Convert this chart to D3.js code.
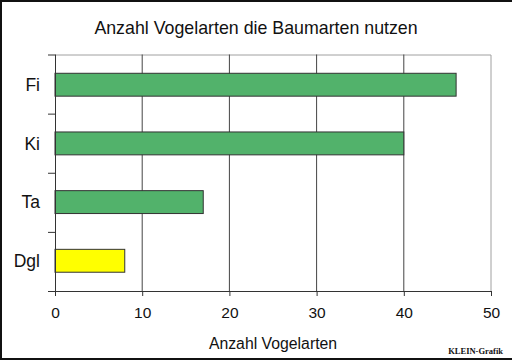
<!DOCTYPE html>
<html>
<head>
<meta charset="utf-8">
<script src="https://cdn.jsdelivr.net/npm/d3@7"></script>
<style>
  body { margin: 0; background: #fff; }
  svg { display: block; font-family: "Liberation Sans", Arial, sans-serif; }
</style>
</head>
<body>
<div class="chart"></div>
<script>
// ----Data----
const species = ["Fi", "Ki", "Ta", "Dgl"]
const birdCounts = [46, 40, 17, 8]
const barColors = ["#52b26b", "#52b26b", "#52b26b", "#ffff00"]
const xTicks = [0, 10, 20, 30, 40, 50]

const data = species.map((s, i) => ({name: s, value: birdCounts[i], color: barColors[i]}))

// ----Chart Initialization----
const W = 512, H = 361
const margin = ({top: 54.5, right: 21, bottom: 70, left: 55})
const width = W - margin.left - margin.right,
      height = H - margin.top - margin.bottom

const root = d3.select(".chart").append("svg")
    .attr("width", W)
    .attr("height", H)

// outer frame (left, top, bottom visible)
root.append("path")
    .attr("d", `M1,${H - 2} L1,1 L${W},1 M0,${H - 2} L${W},${H - 2}`)
    .attr("fill", "none")
    .attr("stroke", "#111")
    .attr("stroke-width", 2)

const svg = root.append("g")
    .attr("transform", `translate(${margin.left},${margin.top})`)

const xScale = d3.scaleLinear()
    .domain([0, 50])
    .range([0, width])

const yScale = d3.scaleBand()
    .domain(species)
    .range([0, height])
    .paddingInner(0.61)
    .paddingOuter(0.32)

// plot frame top/right
svg.append("path")
    .attr("d", `M0,0.5 L${width},0.5 L${width},${height}`)
    .attr("fill", "none")
    .attr("stroke", "#a0a0a0")

// vertical gridlines
svg.selectAll(".grid")
    .data(xTicks.filter(t => t > 0 && t < 50))
    .enter().append("line")
    .attr("class", "grid")
    .attr("x1", d => xScale(d))
    .attr("x2", d => xScale(d))
    .attr("y1", 0)
    .attr("y2", height)
    .attr("stroke", "#444")

// bars
svg.selectAll(".bar")
    .data(data)
    .enter().append("rect")
    .attr("class", "bar")
    .attr("x", xScale(0))
    .attr("y", d => yScale(d.name))
    .attr("width", d => xScale(d.value) - xScale(0))
    .attr("height", yScale.bandwidth())
    .attr("fill", d => d.color)
    .attr("stroke", "#333")

// x axis
const xAxis = d3.axisBottom(xScale)
    .tickValues(xTicks)
    .tickSize(5)
    .tickPadding(11)

svg.append("g")
    .attr("class", "axis x-axis")
    .attr("transform", `translate(0,${height})`)
    .call(xAxis)
    .call(g => g.select(".domain").attr("stroke", "#333").attr("d", `M-7,0.5H${width}`))
    .call(g => g.selectAll(".tick line").attr("stroke", "#333"))
    .call(g => g.selectAll("text").attr("font-size", 15.5).attr("fill", "#111").attr("font-family", "Liberation Sans, Arial, sans-serif"))

// y axis: ticks between categories
const bandStep = height / species.length
const yTickPos = d3.range(0, species.length + 1).map(i => i * bandStep)

svg.append("line")
    .attr("x1", 0.5).attr("x2", 0.5)
    .attr("y1", 0).attr("y2", height)
    .attr("stroke", "#333")

svg.selectAll(".ytick")
    .data(yTickPos)
    .enter().append("line")
    .attr("class", "ytick")
    .attr("x1", -7).attr("x2", 0)
    .attr("y1", d => d + 0.5).attr("y2", d => d + 0.5)
    .attr("stroke", "#333")

svg.selectAll(".ylabel")
    .data(species)
    .enter().append("text")
    .attr("class", "ylabel")
    .attr("x", -15)
    .attr("y", d => yScale(d) + yScale.bandwidth() / 2)
    .attr("dy", "0.36em")
    .attr("text-anchor", "end")
    .attr("font-size", 17.5)
    .attr("fill", "#111")
    .text(d => d)

// titles
root.append("text")
    .attr("x", 256)
    .attr("y", 33.5)
    .attr("text-anchor", "middle")
    .attr("font-size", 17.8)
    .attr("fill", "#111")
    .text("Anzahl Vogelarten die Baumarten nutzen")

root.append("text")
    .attr("x", 273)
    .attr("y", 349)
    .attr("text-anchor", "middle")
    .attr("font-size", 15.8)
    .attr("fill", "#111")
    .text("Anzahl Vogelarten")

root.append("text")
    .attr("x", 503)
    .attr("y", 354)
    .attr("text-anchor", "end")
    .attr("font-size", 8.5)
    .attr("font-weight", "bold")
    .attr("font-family", "Liberation Serif, Times New Roman, serif")
    .attr("fill", "#111")
    .text("KLEIN-Grafik")
</script>
</body>
</html>
